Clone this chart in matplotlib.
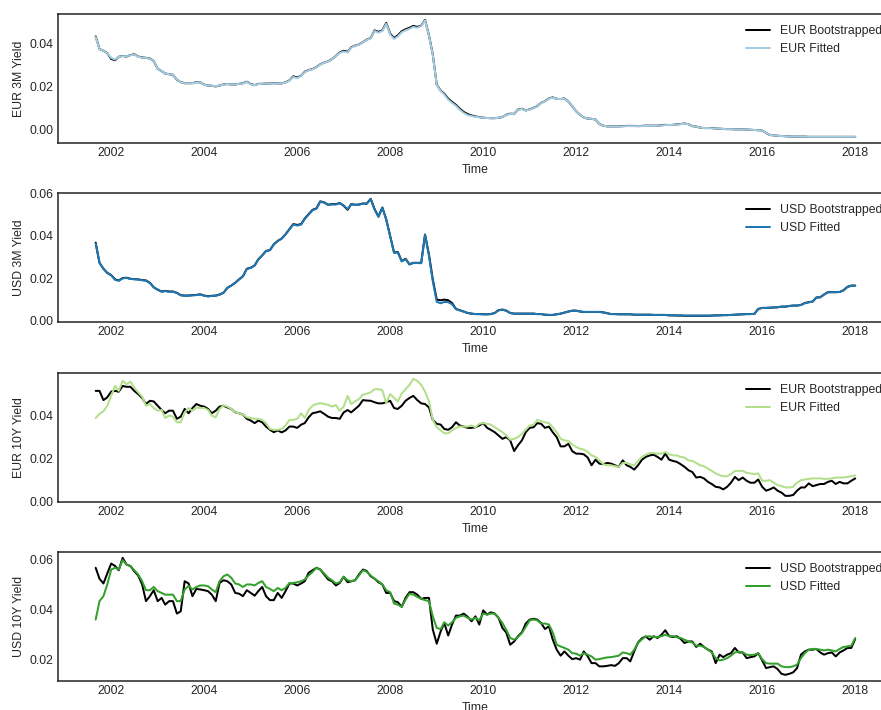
import matplotlib
matplotlib.use("Agg")
import matplotlib.pyplot as plt
import matplotlib.dates as mdates
import numpy as np
import pandas as pd
import seaborn as sns

# Monthly observations, Sep 2001 .. Jan 2018
dates = pd.date_range("2001-09-01", periods=197, freq="MS")

eur_3m_boot = [
    0.0435, 0.0376, 0.0368, 0.0357,
    0.0330, 0.0324, 0.0340, 0.0344, 0.0341, 0.0348, 0.0352, 0.0341, 0.0337, 0.0335, 0.0332, 0.0320,
    0.0284, 0.0273, 0.0262, 0.0259, 0.0256, 0.0233, 0.0222, 0.0217, 0.0217, 0.0217, 0.0222, 0.0221,
    0.0210, 0.0206, 0.0205, 0.0202, 0.0206, 0.0211, 0.0213, 0.0211, 0.0211, 0.0214, 0.0217, 0.0224,
    0.0213, 0.0208, 0.0214, 0.0214, 0.0216, 0.0216, 0.0217, 0.0216, 0.0216, 0.0221, 0.0230, 0.0249,
    0.0243, 0.0252, 0.0270, 0.0278, 0.0283, 0.0292, 0.0305, 0.0313, 0.0319, 0.0329, 0.0344, 0.0360,
    0.0368, 0.0363, 0.0384, 0.0392, 0.0397, 0.0408, 0.0420, 0.0427, 0.0463, 0.0456, 0.0463, 0.0498,
    0.0448, 0.0427, 0.0440, 0.0459, 0.0468, 0.0475, 0.0484, 0.0479, 0.0485, 0.0512, 0.0440, 0.0350,
    0.0210, 0.0182, 0.0168, 0.0145, 0.0130, 0.0116, 0.0098, 0.0083, 0.0073, 0.0067, 0.0062, 0.0059,
    0.0056, 0.0055, 0.0054, 0.0054, 0.0056, 0.0059, 0.0070, 0.0075, 0.0074, 0.0094, 0.0098, 0.0090,
    0.0095, 0.0102, 0.0110, 0.0125, 0.0133, 0.0146, 0.0151, 0.0144, 0.0143, 0.0146, 0.0130, 0.0110,
    0.0086, 0.0070, 0.0057, 0.0052, 0.0051, 0.0048, 0.0027, 0.0019, 0.0016, 0.0016, 0.0016, 0.0016,
    0.0017, 0.0018, 0.0018, 0.0018, 0.0017, 0.0018, 0.0019, 0.0019, 0.0019, 0.0019, 0.0021, 0.0023,
    0.0022, 0.0023, 0.0025, 0.0027, 0.0029, 0.0026, 0.0017, 0.0015, 0.0010, 0.0008, 0.0008, 0.0008,
    0.0006, 0.0005, 0.0004, 0.0003, 0.0003, 0.0002, 0.0002, 0.0002, 0.0001, 0.0000, -0.0001, -0.0002,
    -0.0003, -0.0015, -0.0024, -0.0026, -0.0028, -0.0029, -0.0030, -0.0031, -0.0032, -0.0032, -0.0032, -0.0032,
    -0.0033, -0.0033, -0.0033, -0.0033, -0.0033, -0.0033, -0.0033, -0.0033, -0.0033, -0.0033, -0.0033, -0.0033,
    -0.0033,
]
eur_3m_fit = [
    0.0432, 0.0376, 0.0368, 0.0356,
    0.0335, 0.0327, 0.0340, 0.0343, 0.0342, 0.0347, 0.0351, 0.0340, 0.0336, 0.0335, 0.0331, 0.0320,
    0.0284, 0.0273, 0.0262, 0.0259, 0.0256, 0.0234, 0.0222, 0.0217, 0.0217, 0.0217, 0.0221, 0.0221,
    0.0209, 0.0206, 0.0205, 0.0203, 0.0206, 0.0210, 0.0213, 0.0211, 0.0211, 0.0214, 0.0216, 0.0223,
    0.0212, 0.0208, 0.0213, 0.0214, 0.0216, 0.0216, 0.0216, 0.0216, 0.0216, 0.0220, 0.0229, 0.0246,
    0.0240, 0.0251, 0.0268, 0.0277, 0.0282, 0.0291, 0.0304, 0.0312, 0.0319, 0.0328, 0.0343, 0.0358,
    0.0364, 0.0360, 0.0382, 0.0391, 0.0396, 0.0407, 0.0419, 0.0426, 0.0460, 0.0452, 0.0460, 0.0494,
    0.0443, 0.0422, 0.0435, 0.0454, 0.0463, 0.0470, 0.0479, 0.0475, 0.0483, 0.0510, 0.0438, 0.0348,
    0.0208, 0.0180, 0.0164, 0.0140, 0.0125, 0.0111, 0.0093, 0.0078, 0.0068, 0.0064, 0.0060, 0.0058,
    0.0056, 0.0055, 0.0054, 0.0054, 0.0056, 0.0059, 0.0069, 0.0074, 0.0074, 0.0093, 0.0097, 0.0090,
    0.0094, 0.0101, 0.0109, 0.0124, 0.0132, 0.0145, 0.0150, 0.0144, 0.0143, 0.0145, 0.0129, 0.0110,
    0.0086, 0.0070, 0.0057, 0.0052, 0.0051, 0.0048, 0.0027, 0.0019, 0.0016, 0.0016, 0.0016, 0.0016,
    0.0016, 0.0017, 0.0017, 0.0017, 0.0017, 0.0017, 0.0018, 0.0018, 0.0018, 0.0019, 0.0020, 0.0022,
    0.0022, 0.0023, 0.0024, 0.0026, 0.0028, 0.0026, 0.0017, 0.0015, 0.0010, 0.0008, 0.0008, 0.0007,
    0.0006, 0.0005, 0.0004, 0.0003, 0.0003, 0.0002, 0.0002, 0.0002, 0.0001, 0.0000, -0.0001, -0.0002,
    -0.0003, -0.0015, -0.0024, -0.0026, -0.0028, -0.0029, -0.0030, -0.0031, -0.0032, -0.0032, -0.0032, -0.0032,
    -0.0033, -0.0033, -0.0033, -0.0033, -0.0033, -0.0033, -0.0033, -0.0033, -0.0033, -0.0033, -0.0033, -0.0033,
    -0.0033,
]

usd_3m_boot = [
    0.0367, 0.0272, 0.0244, 0.0225,
    0.0214, 0.0194, 0.0189, 0.0200, 0.0202, 0.0197, 0.0195, 0.0194, 0.0191, 0.0189, 0.0178, 0.0157,
    0.0146, 0.0137, 0.0140, 0.0137, 0.0137, 0.0131, 0.0120, 0.0118, 0.0118, 0.0120, 0.0121, 0.0124,
    0.0118, 0.0115, 0.0117, 0.0118, 0.0123, 0.0131, 0.0154, 0.0165, 0.0178, 0.0194, 0.0209, 0.0244,
    0.0249, 0.0260, 0.0288, 0.0307, 0.0328, 0.0332, 0.0359, 0.0375, 0.0386, 0.0406, 0.0430, 0.0454,
    0.0450, 0.0454, 0.0480, 0.0501, 0.0521, 0.0528, 0.0561, 0.0556, 0.0545, 0.0548, 0.0548, 0.0553,
    0.0540, 0.0521, 0.0548, 0.0545, 0.0546, 0.0551, 0.0550, 0.0573, 0.0524, 0.0490, 0.0532, 0.0477,
    0.0398, 0.0320, 0.0323, 0.0280, 0.0291, 0.0265, 0.0272, 0.0272, 0.0272, 0.0405, 0.0310, 0.0194,
    0.0099, 0.0096, 0.0099, 0.0096, 0.0083, 0.0055, 0.0049, 0.0043, 0.0036, 0.0033, 0.0031, 0.0031,
    0.0030, 0.0030, 0.0031, 0.0036, 0.0049, 0.0052, 0.0047, 0.0036, 0.0033, 0.0033, 0.0033, 0.0033,
    0.0033, 0.0033, 0.0031, 0.0031, 0.0028, 0.0027, 0.0027, 0.0030, 0.0033, 0.0038, 0.0043, 0.0047,
    0.0047, 0.0043, 0.0041, 0.0041, 0.0041, 0.0041, 0.0041, 0.0039, 0.0035, 0.0031, 0.0031, 0.0030,
    0.0030, 0.0030, 0.0030, 0.0028, 0.0028, 0.0028, 0.0028, 0.0028, 0.0027, 0.0027, 0.0027, 0.0027,
    0.0025, 0.0025, 0.0024, 0.0024, 0.0023, 0.0023, 0.0023, 0.0023, 0.0023, 0.0023, 0.0023, 0.0024,
    0.0025, 0.0025, 0.0026, 0.0026, 0.0027, 0.0028, 0.0029, 0.0030, 0.0031, 0.0031, 0.0032, 0.0055,
    0.0060, 0.0060, 0.0061, 0.0062, 0.0063, 0.0066, 0.0066, 0.0069, 0.0071, 0.0071, 0.0074, 0.0083,
    0.0087, 0.0090, 0.0109, 0.0110, 0.0123, 0.0134, 0.0134, 0.0134, 0.0135, 0.0143, 0.0159, 0.0165,
    0.0165,
]
usd_3m_fit = [
    0.0362, 0.0272, 0.0244, 0.0224,
    0.0213, 0.0192, 0.0187, 0.0199, 0.0201, 0.0196, 0.0195, 0.0193, 0.0190, 0.0188, 0.0177, 0.0156,
    0.0145, 0.0136, 0.0139, 0.0136, 0.0136, 0.0130, 0.0119, 0.0117, 0.0118, 0.0119, 0.0120, 0.0123,
    0.0117, 0.0114, 0.0116, 0.0117, 0.0122, 0.0131, 0.0154, 0.0165, 0.0178, 0.0194, 0.0209, 0.0243,
    0.0248, 0.0259, 0.0287, 0.0306, 0.0327, 0.0331, 0.0358, 0.0374, 0.0386, 0.0405, 0.0429, 0.0452,
    0.0447, 0.0452, 0.0478, 0.0499, 0.0519, 0.0526, 0.0559, 0.0555, 0.0544, 0.0546, 0.0546, 0.0552,
    0.0542, 0.0524, 0.0547, 0.0544, 0.0545, 0.0550, 0.0549, 0.0572, 0.0522, 0.0488, 0.0530, 0.0475,
    0.0396, 0.0318, 0.0321, 0.0278, 0.0289, 0.0264, 0.0271, 0.0271, 0.0270, 0.0403, 0.0305, 0.0185,
    0.0088, 0.0082, 0.0088, 0.0087, 0.0077, 0.0054, 0.0048, 0.0042, 0.0036, 0.0033, 0.0031, 0.0031,
    0.0030, 0.0030, 0.0031, 0.0036, 0.0049, 0.0052, 0.0047, 0.0036, 0.0033, 0.0033, 0.0033, 0.0033,
    0.0033, 0.0033, 0.0031, 0.0031, 0.0028, 0.0027, 0.0027, 0.0030, 0.0033, 0.0038, 0.0043, 0.0047,
    0.0047, 0.0043, 0.0041, 0.0041, 0.0041, 0.0041, 0.0041, 0.0039, 0.0035, 0.0031, 0.0031, 0.0030,
    0.0030, 0.0030, 0.0030, 0.0028, 0.0028, 0.0028, 0.0028, 0.0028, 0.0027, 0.0027, 0.0027, 0.0027,
    0.0025, 0.0025, 0.0025, 0.0025, 0.0024, 0.0024, 0.0024, 0.0024, 0.0024, 0.0024, 0.0024, 0.0024,
    0.0025, 0.0025, 0.0026, 0.0026, 0.0027, 0.0028, 0.0029, 0.0030, 0.0031, 0.0031, 0.0032, 0.0055,
    0.0060, 0.0060, 0.0061, 0.0062, 0.0063, 0.0066, 0.0066, 0.0069, 0.0071, 0.0071, 0.0074, 0.0082,
    0.0086, 0.0090, 0.0108, 0.0110, 0.0123, 0.0133, 0.0134, 0.0134, 0.0135, 0.0143, 0.0158, 0.0164,
    0.0164,
]

eur_10y_boot = [
    0.0515, 0.0515, 0.0472, 0.0485,
    0.0512, 0.0515, 0.0511, 0.0538, 0.0534, 0.0534, 0.0515, 0.0500, 0.0482, 0.0454, 0.0469, 0.0466,
    0.0446, 0.0426, 0.0411, 0.0423, 0.0423, 0.0385, 0.0395, 0.0431, 0.0411, 0.0435, 0.0454, 0.0446,
    0.0442, 0.0431, 0.0411, 0.0423, 0.0442, 0.0446, 0.0438, 0.0431, 0.0415, 0.0411, 0.0405, 0.0385,
    0.0377, 0.0365, 0.0377, 0.0369, 0.0349, 0.0334, 0.0323, 0.0331, 0.0322, 0.0331, 0.0349, 0.0349,
    0.0343, 0.0358, 0.0365, 0.0392, 0.0411, 0.0415, 0.0420, 0.0408, 0.0395, 0.0389, 0.0389, 0.0385,
    0.0415, 0.0426, 0.0415, 0.0431, 0.0446, 0.0472, 0.0470, 0.0469, 0.0462, 0.0457, 0.0457, 0.0462,
    0.0469, 0.0435, 0.0431, 0.0446, 0.0469, 0.0482, 0.0492, 0.0472, 0.0457, 0.0454, 0.0438, 0.0380,
    0.0362, 0.0358, 0.0338, 0.0334, 0.0346, 0.0369, 0.0354, 0.0349, 0.0343, 0.0343, 0.0346, 0.0354,
    0.0365, 0.0343, 0.0334, 0.0323, 0.0308, 0.0292, 0.0300, 0.0285, 0.0235, 0.0262, 0.0285, 0.0323,
    0.0343, 0.0346, 0.0365, 0.0362, 0.0343, 0.0349, 0.0323, 0.0300, 0.0257, 0.0257, 0.0269, 0.0235,
    0.0223, 0.0223, 0.0220, 0.0205, 0.0169, 0.0195, 0.0177, 0.0174, 0.0180, 0.0177, 0.0169, 0.0162,
    0.0192, 0.0169, 0.0162, 0.0149, 0.0169, 0.0195, 0.0208, 0.0215, 0.0218, 0.0208, 0.0195, 0.0223,
    0.0195, 0.0189, 0.0185, 0.0174, 0.0162, 0.0146, 0.0138, 0.0112, 0.0115, 0.0108, 0.0092, 0.0082,
    0.0069, 0.0066, 0.0057, 0.0069, 0.0088, 0.0115, 0.0100, 0.0112, 0.0097, 0.0088, 0.0088, 0.0103,
    0.0069, 0.0051, 0.0057, 0.0066, 0.0051, 0.0042, 0.0027, 0.0027, 0.0031, 0.0051, 0.0066, 0.0066,
    0.0085, 0.0072, 0.0077, 0.0082, 0.0082, 0.0092, 0.0097, 0.0082, 0.0092, 0.0085, 0.0085, 0.0097,
    0.0108,
]
eur_10y_fit = [
    0.0389, 0.0408, 0.0420, 0.0446,
    0.0492, 0.0538, 0.0515, 0.0562, 0.0546, 0.0558, 0.0531, 0.0508, 0.0488, 0.0446, 0.0454, 0.0435,
    0.0423, 0.0426, 0.0389, 0.0400, 0.0395, 0.0369, 0.0369, 0.0415, 0.0435, 0.0423, 0.0438, 0.0435,
    0.0435, 0.0426, 0.0400, 0.0392, 0.0431, 0.0448, 0.0442, 0.0431, 0.0415, 0.0411, 0.0405, 0.0392,
    0.0389, 0.0385, 0.0385, 0.0380, 0.0365, 0.0338, 0.0334, 0.0334, 0.0338, 0.0354, 0.0380, 0.0380,
    0.0385, 0.0411, 0.0389, 0.0426, 0.0446, 0.0454, 0.0458, 0.0454, 0.0450, 0.0442, 0.0449, 0.0423,
    0.0442, 0.0492, 0.0454, 0.0466, 0.0477, 0.0497, 0.0502, 0.0508, 0.0523, 0.0523, 0.0518, 0.0458,
    0.0500, 0.0482, 0.0466, 0.0503, 0.0523, 0.0543, 0.0571, 0.0562, 0.0543, 0.0512, 0.0466, 0.0380,
    0.0346, 0.0331, 0.0318, 0.0318, 0.0331, 0.0343, 0.0349, 0.0349, 0.0349, 0.0354, 0.0346, 0.0362,
    0.0365, 0.0362, 0.0358, 0.0346, 0.0334, 0.0323, 0.0308, 0.0288, 0.0292, 0.0300, 0.0315, 0.0334,
    0.0354, 0.0358, 0.0380, 0.0374, 0.0369, 0.0365, 0.0346, 0.0323, 0.0292, 0.0285, 0.0282, 0.0266,
    0.0254, 0.0246, 0.0242, 0.0231, 0.0215, 0.0208, 0.0192, 0.0174, 0.0169, 0.0169, 0.0165, 0.0162,
    0.0180, 0.0180, 0.0174, 0.0169, 0.0189, 0.0208, 0.0219, 0.0226, 0.0226, 0.0223, 0.0223, 0.0231,
    0.0220, 0.0215, 0.0215, 0.0208, 0.0205, 0.0192, 0.0189, 0.0180, 0.0169, 0.0165, 0.0154, 0.0143,
    0.0131, 0.0123, 0.0118, 0.0118, 0.0128, 0.0143, 0.0143, 0.0143, 0.0134, 0.0131, 0.0128, 0.0131,
    0.0097, 0.0097, 0.0100, 0.0088, 0.0077, 0.0072, 0.0066, 0.0066, 0.0069, 0.0088, 0.0100, 0.0103,
    0.0106, 0.0108, 0.0108, 0.0108, 0.0106, 0.0106, 0.0108, 0.0112, 0.0112, 0.0112, 0.0115, 0.0118,
    0.0122,
]

usd_10y_boot = [
    0.0568, 0.0524, 0.0505, 0.0545,
    0.0585, 0.0575, 0.0558, 0.0608, 0.0581, 0.0575, 0.0554, 0.0537, 0.0501, 0.0434, 0.0454, 0.0478,
    0.0434, 0.0447, 0.0420, 0.0434, 0.0434, 0.0384, 0.0393, 0.0514, 0.0505, 0.0454, 0.0483, 0.0481,
    0.0478, 0.0474, 0.0460, 0.0434, 0.0507, 0.0518, 0.0514, 0.0501, 0.0467, 0.0464, 0.0454, 0.0478,
    0.0467, 0.0456, 0.0474, 0.0491, 0.0454, 0.0438, 0.0438, 0.0467, 0.0447, 0.0474, 0.0505, 0.0505,
    0.0497, 0.0505, 0.0514, 0.0548, 0.0558, 0.0568, 0.0561, 0.0541, 0.0521, 0.0514, 0.0497, 0.0507,
    0.0532, 0.0510, 0.0514, 0.0518, 0.0541, 0.0561, 0.0555, 0.0534, 0.0524, 0.0510, 0.0501, 0.0467,
    0.0467, 0.0434, 0.0430, 0.0411, 0.0447, 0.0470, 0.0470, 0.0460, 0.0443, 0.0447, 0.0447, 0.0320,
    0.0263, 0.0313, 0.0346, 0.0296, 0.0340, 0.0376, 0.0376, 0.0384, 0.0371, 0.0353, 0.0373, 0.0340,
    0.0397, 0.0380, 0.0389, 0.0384, 0.0367, 0.0326, 0.0308, 0.0259, 0.0272, 0.0293, 0.0309, 0.0344,
    0.0360, 0.0363, 0.0360, 0.0346, 0.0322, 0.0333, 0.0280, 0.0239, 0.0215, 0.0232, 0.0215, 0.0201,
    0.0205, 0.0199, 0.0232, 0.0212, 0.0185, 0.0185, 0.0172, 0.0172, 0.0174, 0.0177, 0.0174, 0.0185,
    0.0205, 0.0205, 0.0192, 0.0232, 0.0268, 0.0285, 0.0292, 0.0279, 0.0293, 0.0286, 0.0299, 0.0317,
    0.0293, 0.0290, 0.0293, 0.0282, 0.0266, 0.0272, 0.0272, 0.0250, 0.0263, 0.0250, 0.0239, 0.0232,
    0.0185, 0.0219, 0.0209, 0.0219, 0.0225, 0.0246, 0.0228, 0.0228, 0.0205, 0.0209, 0.0212, 0.0225,
    0.0196, 0.0165, 0.0169, 0.0172, 0.0161, 0.0142, 0.0138, 0.0142, 0.0148, 0.0165, 0.0219, 0.0232,
    0.0239, 0.0239, 0.0242, 0.0228, 0.0219, 0.0225, 0.0228, 0.0212, 0.0228, 0.0236, 0.0246, 0.0246,
    0.0282,
]
usd_10y_fit = [
    0.0360, 0.0434, 0.0454, 0.0501,
    0.0561, 0.0568, 0.0561, 0.0599, 0.0581, 0.0575, 0.0558, 0.0541, 0.0514, 0.0478, 0.0478, 0.0491,
    0.0474, 0.0467, 0.0460, 0.0460, 0.0460, 0.0434, 0.0434, 0.0481, 0.0495, 0.0481, 0.0491, 0.0497,
    0.0497, 0.0494, 0.0481, 0.0470, 0.0514, 0.0534, 0.0541, 0.0528, 0.0505, 0.0501, 0.0491, 0.0501,
    0.0501, 0.0497, 0.0507, 0.0514, 0.0491, 0.0483, 0.0474, 0.0487, 0.0478, 0.0487, 0.0507, 0.0507,
    0.0510, 0.0514, 0.0521, 0.0537, 0.0551, 0.0568, 0.0561, 0.0545, 0.0528, 0.0518, 0.0505, 0.0510,
    0.0532, 0.0518, 0.0514, 0.0518, 0.0537, 0.0558, 0.0552, 0.0537, 0.0524, 0.0514, 0.0501, 0.0478,
    0.0470, 0.0424, 0.0420, 0.0411, 0.0440, 0.0464, 0.0460, 0.0451, 0.0443, 0.0438, 0.0434, 0.0373,
    0.0326, 0.0322, 0.0349, 0.0336, 0.0349, 0.0367, 0.0373, 0.0376, 0.0367, 0.0360, 0.0367, 0.0357,
    0.0384, 0.0380, 0.0384, 0.0384, 0.0367, 0.0346, 0.0319, 0.0286, 0.0279, 0.0290, 0.0306, 0.0330,
    0.0357, 0.0360, 0.0357, 0.0344, 0.0344, 0.0340, 0.0309, 0.0259, 0.0252, 0.0246, 0.0239, 0.0225,
    0.0223, 0.0215, 0.0225, 0.0219, 0.0212, 0.0199, 0.0201, 0.0205, 0.0208, 0.0209, 0.0212, 0.0215,
    0.0228, 0.0225, 0.0219, 0.0239, 0.0266, 0.0281, 0.0292, 0.0293, 0.0290, 0.0290, 0.0293, 0.0299,
    0.0293, 0.0293, 0.0289, 0.0286, 0.0279, 0.0272, 0.0268, 0.0255, 0.0255, 0.0250, 0.0239, 0.0228,
    0.0205, 0.0196, 0.0199, 0.0205, 0.0215, 0.0228, 0.0231, 0.0228, 0.0219, 0.0217, 0.0219, 0.0225,
    0.0201, 0.0185, 0.0183, 0.0183, 0.0183, 0.0172, 0.0169, 0.0169, 0.0172, 0.0179, 0.0205, 0.0225,
    0.0239, 0.0242, 0.0242, 0.0239, 0.0236, 0.0239, 0.0236, 0.0232, 0.0242, 0.0250, 0.0252, 0.0255,
    0.0286,
]

panels = [
    ("EUR 3M Yield", "EUR", eur_3m_boot, eur_3m_fit, "#a6cee3"),
    ("USD 3M Yield", "USD", usd_3m_boot, usd_3m_fit, "#1f78b4"),
    ("EUR 10Y Yield", "EUR", eur_10y_boot, eur_10y_fit, "#b2df8a"),
    ("USD 10Y Yield", "USD", usd_10y_boot, usd_10y_fit, "#33a02c"),
]

sns.set_theme(style="white", context="notebook")
plt.rcParams["font.family"] = ["Liberation Sans", "DejaVu Sans"]
plt.rcParams.update({
    "axes.labelsize": 11,
    "xtick.labelsize": 11,
    "ytick.labelsize": 11,
    "legend.fontsize": 11,
    "lines.linewidth": 1.8,
    "axes.linewidth": 1.4,
    "xtick.major.size": 0,
    "ytick.major.size": 0,
    "xtick.major.pad": 4,
    "ytick.major.pad": 4,
})

DPI = 80
fig = plt.figure(figsize=(881 / DPI, 710 / DPI), dpi=DPI)

left = 57.7 / 881
width = 835.5 / 881
height = 128.7 / 710
bottoms = [0.799, 0.547, 0.2934, 0.0413]

for (ylabel, ccy, boot, fit, color), b in zip(panels, bottoms):
    ax = fig.add_axes([left, b, width, height])
    ax.plot(dates, np.array(boot), color="black", label=f"{ccy} Bootstrapped")
    ax.plot(dates, np.array(fit), color=color, label=f"{ccy} Fitted")
    ax.set_ylabel(ylabel)
    ax.set_xlabel("Time")
    ax.xaxis.set_major_locator(mdates.YearLocator(2))
    ax.xaxis.set_major_formatter(mdates.DateFormatter("%Y"))
    ax.legend(loc="upper right", frameon=False)

fig.savefig("out.png", dpi=DPI)
